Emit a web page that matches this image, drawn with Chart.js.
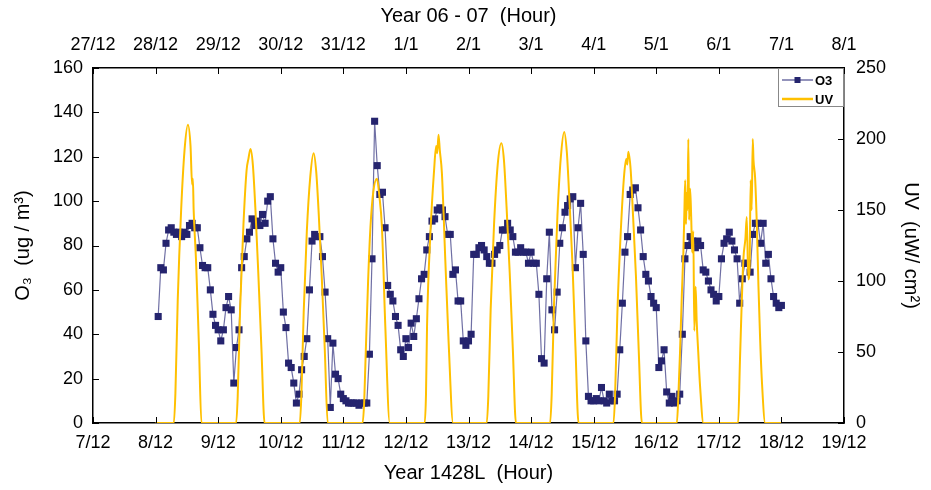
<!DOCTYPE html>
<html>
<head>
<meta charset="utf-8">
<script src="https://cdn.jsdelivr.net/npm/chart.js@4"></script>
<style>
html,body{margin:0;padding:0;background:#fff;}
#wrap{width:931px;height:490px;position:relative;}
</style>
</head>
<body>
<div id="wrap"><canvas id="c" width="931" height="490"></canvas></div>
<script>
// ---- Data ----
const bottomLabels = ['7/12','8/12','9/12','10/12','11/12','12/12','13/12','14/12','15/12','16/12','17/12','18/12','19/12'];
const topLabels = ['27/12','28/12','29/12','30/12','31/12','1/1','2/1','3/1','4/1','5/1','6/1','7/1','8/1'];

// O3 hourly values (ug/m3), first value at 8/12 01:00 (hour 25 from 7/12 00:00)
const o3StartHour = 25;
const o3Values = [
  48,70,69,81,87,88,86,85,86,84,86,85,89,90,88,88,79,71,70,70,60,49,44,42,
  37,42,52,57,51,18,34,42,70,75,83,86,92,89,91,89,94,90,100,102,83,72,68,70,
  50,43,27,25,18,9,13,24,30,38,60,82,85,84,84,75,59,38,7,36,22,20,13,11,
  10,9,9,9,9,8,9,9,9,31,74,136,116,103,104,88,62,58,55,48,44,33,30,38,
  34,45,39,47,56,65,67,78,84,91,92,96,97,96,93,85,85,67,69,55,55,37,35,37,
  40,76,76,79,80,78,75,72,72,76,78,80,87,87,90,87,84,77,77,79,77,77,72,77,
  72,72,58,29,27,65,86,51,42,59,81,88,95,98,101,102,70,88,99,76,37,12,10,10,
  11,10,16,10,9,13,10,10,13,33,54,77,84,103,105,106,97,87,75,67,64,57,54,52,
  25,28,33,14,9,12,9,10,13,40,74,80,84,82,79,82,80,69,68,64,60,58,55,57,
  74,81,83,86,82,78,74,54,65,72,72,68,85,90,90,81,90,72,76,65,57,54,52,53
];

// UV readings (uW/cm2): day of month, hour of day, value
const uvDay = [
  8,
  8,8,8,8,8,8,8,8,8,8,8,8,8,
  9,9,9,9,9,9,9,9,9,9,9,9,
  10,10,10,10,10,10,10,10,10,10,10,
  11,11,11,11,11,11,11,11,11,11,11,
  12,12,12,12,12,12,12,12,12,12,12,12,12,
  13,13,13,13,13,13,13,13,13,13,13,
  14,14,14,14,14,14,14,14,14,14,14,
  15,15,15,15,15,15,15,15,15,15,15,15,15,
  16,16,16,16,16,16,16,16,16,16,16,16,16,16,16,16,16,16,16,16,16,16,
  17,17,17,17,17,17,17,17,17,17,17,17,17,17,17,17,17,
  18
];
const uvHour = [
  0,
  7.0,7.6,8.5,9.8,11.1,12.4,13.4,14.0,14.3,14.6,15.5,16.6,17.6,
  6.9,7.5,8.4,9.7,10.9,11.6,12.4,13.3,14.3,15.4,16.6,17.8,
  7.3,7.9,8.8,10.0,11.3,12.6,13.6,14.6,15.7,16.9,18.0,
  7.4,8.0,8.5,9.5,10.4,11.5,12.9,13.8,14.8,16.1,17.8,
  7.2,7.7,8.1,9.4,10.8,11.6,12.0,12.5,13.0,13.8,15.1,16.4,18.1,
  7.0,7.6,8.5,9.8,11.2,12.6,13.6,14.6,15.8,17.0,18.2,
  7.3,7.9,8.8,10.1,11.4,12.7,13.7,14.7,15.9,17.0,18.2,
  7.6,8.2,9.1,10.4,11.7,12.5,12.9,13.3,14.2,15.1,16.2,17.3,18.5,
  7.9,8.5,9.1,9.8,10.4,10.8,11.1,11.4,11.7,12.0,12.3,12.6,13.0,13.4,13.8,14.2,14.6,15.1,15.5,16.1,16.8,18.1,
  7.4,8.1,9.4,10.2,10.7,11.3,11.8,12.2,12.6,13.0,13.3,13.9,14.6,15.2,15.8,16.5,17.8,
  0
];
const uvValues = [
  0,
  0,21,87,150,192,210,195,168,172,150,115,56,0,
  0,19,80,140,178,186,193,182,150,105,52,0,
  0,19,78,135,173,190,177,146,104,51,0,
  0,15,44,100,138,163,172,160,138,68,0,
  0,20,68,134,178,195,190,203,192,176,115,56,0,
  0,19,80,140,182,197,185,152,106,52,0,
  0,20,84,146,187,205,191,157,111,54,0,
  0,19,78,135,175,186,182,191,178,146,104,50,0,
  0,20,49,90,120,150,171,140,162,150,200,143,165,145,120,135,65,96,72,50,26,0,
  0,44,115,130,145,101,110,171,150,200,185,173,138,96,61,30,0,
  0
];

// ---- Build points ----
const o3Points = o3Values.map((v, i) => ({x: o3StartHour + i, y: v}));
const uvPoints = uvValues.map((v, i) => ({x: (uvDay[i] - 7) * 24 + uvHour[i], y: v}));

const FONT = "'Liberation Sans',Arial,sans-serif";
const NAVY = '#25246e';
const GOLD = '#ffc000';

const inwardTicks = {
  id: 'inwardTicks',
  afterDraw(chart) {
    const {ctx, chartArea: a, scales} = chart;
    ctx.save();
    ctx.strokeStyle = '#000';
    ctx.lineWidth = 1;
    ctx.beginPath();
    scales.x.ticks.forEach(t => {
      const px = Math.round(scales.x.getPixelForValue(t.value)) + 0.5;
      ctx.moveTo(px, a.bottom); ctx.lineTo(px, a.bottom - 6);
      ctx.moveTo(px, a.top); ctx.lineTo(px, a.top + 6);
    });
    scales.y.ticks.forEach(t => {
      const py = Math.round(scales.y.getPixelForValue(t.value)) + 0.5;
      ctx.moveTo(a.left, py); ctx.lineTo(a.left + 6, py);
    });
    scales.y2.ticks.forEach(t => {
      const py = Math.round(scales.y2.getPixelForValue(t.value)) + 0.5;
      ctx.moveTo(a.right, py); ctx.lineTo(a.right - 6, py);
    });
    ctx.stroke();
    ctx.restore();
  }
};

const boxLegend = {
  id: 'boxLegend',
  afterDraw(chart) {
    const {ctx, chartArea: a} = chart;
    const w = 66, h = 39;
    const x0 = a.right - w, y0 = a.top;
    ctx.save();
    ctx.fillStyle = '#fff';
    ctx.fillRect(x0, y0, w, h);
    ctx.strokeStyle = '#888';
    ctx.lineWidth = 1;
    ctx.strokeRect(x0 + 0.5, y0 + 0.5, w - 1, h - 1);
    const ds = chart.data.datasets;
    ctx.font = "bold 13px 'Liberation Sans',Arial,sans-serif";
    ctx.textBaseline = 'middle';
    ctx.textAlign = 'left';
    [0, 1].forEach((k, idx) => {
      const d = ds[k];
      const cy = y0 + 12 + idx * 19;
      ctx.strokeStyle = d.borderColor;
      ctx.lineWidth = idx === 0 ? 1.5 : 2.5;
      ctx.beginPath();
      ctx.moveTo(x0 + 4, cy); ctx.lineTo(x0 + 35, cy);
      ctx.stroke();
      if (idx === 0) {
        ctx.fillStyle = d.pointBackgroundColor;
        ctx.fillRect(x0 + 16.5, cy - 3, 6, 6);
      }
      ctx.fillStyle = '#000';
      ctx.fillText(d.label, x0 + 37, cy + 1);
    });
    ctx.restore();
  }
};

new Chart(document.getElementById('c'), {
  type: 'line',
  data: {
    datasets: [
      {
        label: 'O3',
        data: o3Points,
        xAxisID: 'x',
        yAxisID: 'y',
        borderColor: 'rgba(50,50,125,0.7)',
        borderWidth: 1.2,
        pointStyle: 'rect',
        pointRadius: 5,
        pointBackgroundColor: NAVY,
        pointBorderColor: NAVY,
        pointBorderWidth: 0,
        tension: 0,
        order: 2
      },
      {
        label: 'UV',
        data: uvPoints,
        xAxisID: 'x',
        yAxisID: 'y2',
        borderColor: GOLD,
        borderWidth: 2,
        pointRadius: 0,
        cubicInterpolationMode: 'monotone',
        order: 1
      }
    ]
  },
  options: {
    responsive: false,
    devicePixelRatio: 1,
    animation: false,
    layout: {padding: 0},
    plugins: {legend: {display: false}, tooltip: {enabled: false}},
    scales: {
      x: {
        type: 'linear', position: 'bottom', min: 0, max: 288,
        afterFit(s) { s.height = 67; },
        ticks: {stepSize: 24, autoSkip: false, maxRotation: 0, padding: 9, color: '#000',
          font: {family: FONT, size: 18},
          callback: v => bottomLabels[Math.round(v / 24)]},
        grid: {display: true, drawOnChartArea: false, drawTicks: false},
        border: {display: true, color: '#000', width: 1.5},
        title: {display: true, text: 'Year 1428L  (Hour)', color: '#000',
          font: {family: FONT, size: 20}, padding: {top: 0, bottom: 5}}
      },
      x2: {
        type: 'linear', position: 'top', min: 0, max: 288,
        afterFit(s) { s.height = 68; },
        ticks: {stepSize: 24, autoSkip: false, maxRotation: 0, padding: 12, color: '#000',
          font: {family: FONT, size: 18},
          callback: v => topLabels[Math.round(v / 24)]},
        grid: {display: true, drawOnChartArea: false, drawTicks: false},
        border: {display: true, color: '#000', width: 1.5},
        title: {display: true, text: 'Year 06 - 07  (Hour)', color: '#000',
          font: {family: FONT, size: 20}, padding: {top: 4, bottom: 0}}
      },
      y: {
        type: 'linear', position: 'left', min: 0, max: 160,
        afterFit(s) { s.width = 93; },
        ticks: {stepSize: 20, padding: 10, color: '#000', font: {family: FONT, size: 18}},
        grid: {display: true, drawOnChartArea: false, drawTicks: false},
        border: {display: true, color: '#000', width: 1.5},
        title: {display: true, text: 'O₃  (ug / m³)', color: '#000',
          font: {family: FONT, size: 20}, padding: {top: 11, bottom: 0}}
      },
      y2: {
        type: 'linear', position: 'right', min: 0, max: 250,
        afterFit(s) { s.width = 87; },
        ticks: {stepSize: 50, padding: 12, color: '#000', font: {family: FONT, size: 18}},
        grid: {display: true, drawOnChartArea: false, drawTicks: false},
        border: {display: true, color: '#000', width: 1.5},
        title: {display: true, text: 'UV  (uW/ cm²)', color: '#000',
          font: {family: FONT, size: 20}, padding: {top: 8, bottom: 0}}
      }
    }
  },
  plugins: [inwardTicks, boxLegend]
});
</script>
</body>
</html>
